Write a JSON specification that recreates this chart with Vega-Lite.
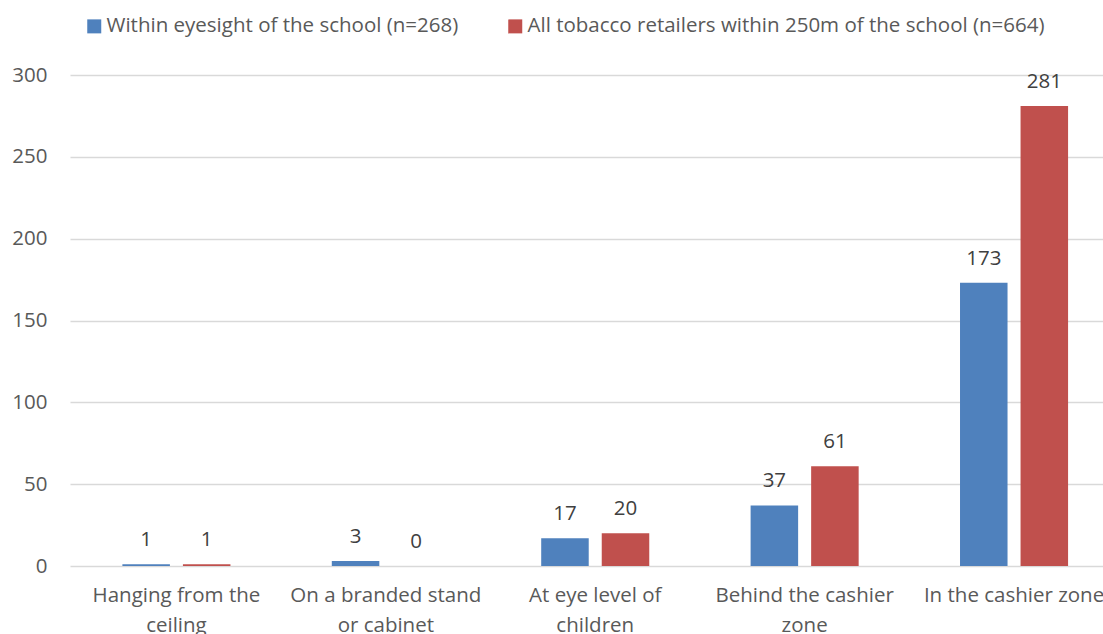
{
  "$schema": "https://vega.github.io/schema/vega-lite/v6.json",
  "width": 1033,
  "height": 491,
  "autosize": {"type": "none"},
  "padding": {"left": 70, "top": 75, "right": 0, "bottom": 68},
  "background": "white",
  "data": {
    "values": [
      {"location": "Hanging from the ceiling", "group": "Within eyesight of the school (n=268)", "count": 1},
      {"location": "Hanging from the ceiling", "group": "All tobacco retailers within 250m of the school (n=664)", "count": 1},
      {"location": "On a branded stand or cabinet", "group": "Within eyesight of the school (n=268)", "count": 3},
      {"location": "On a branded stand or cabinet", "group": "All tobacco retailers within 250m of the school (n=664)", "count": 0},
      {"location": "At eye level of children", "group": "Within eyesight of the school (n=268)", "count": 17},
      {"location": "At eye level of children", "group": "All tobacco retailers within 250m of the school (n=664)", "count": 20},
      {"location": "Behind the cashier zone", "group": "Within eyesight of the school (n=268)", "count": 37},
      {"location": "Behind the cashier zone", "group": "All tobacco retailers within 250m of the school (n=664)", "count": 61},
      {"location": "In the cashier zone", "group": "Within eyesight of the school (n=268)", "count": 173},
      {"location": "In the cashier zone", "group": "All tobacco retailers within 250m of the school (n=664)", "count": 281}
    ]
  },
  "config": {
    "view": {"stroke": null},
    "font": "Open Sans"
  },
  "encoding": {
    "x": {
      "field": "location",
      "type": "nominal",
      "sort": null,
      "scale": {"paddingInner": 0.484, "paddingOuter": 0.2085, "align": 0.6},
      "axis": {
        "title": null,
        "labelAngle": 0,
        "domain": false,
        "ticks": false,
        "labelFont": "Open Sans",
        "labelFontSize": 20.5,
        "labelColor": "#595959",
        "labelPadding": 19,
        "labelLineHeight": 30,
        "labelLimit": 300,
        "labelExpr": "datum.label == 'Hanging from the ceiling' ? ['Hanging from the', 'ceiling'] : datum.label == 'On a branded stand or cabinet' ? ['On a branded stand', 'or cabinet'] : datum.label == 'At eye level of children' ? ['At eye level of', 'children'] : datum.label == 'Behind the cashier zone' ? ['Behind the cashier', 'zone'] : datum.label"
      }
    },
    "xOffset": {
      "field": "group",
      "type": "nominal",
      "sort": null,
      "scale": {"paddingInner": 0.215}
    },
    "y": {
      "field": "count",
      "type": "quantitative",
      "scale": {"domain": [0, 300]},
      "axis": {
        "title": null,
        "values": [0, 50, 100, 150, 200, 250, 300],
        "domain": false,
        "ticks": false,
        "grid": true,
        "gridColor": "#d9d9d9",
        "gridWidth": 1.3,
        "labelFont": "Open Sans",
        "labelFontSize": 20.5,
        "labelColor": "#595959",
        "labelPadding": 23
      }
    }
  },
  "layer": [
    {
      "mark": {"type": "bar"},
      "encoding": {
        "color": {
          "field": "group",
          "type": "nominal",
          "sort": null,
          "scale": {"range": ["#4F81BD", "#C0504D"]},
          "legend": {
            "title": null,
            "orient": "none",
            "legendX": 14,
            "legendY": -59,
            "direction": "horizontal",
            "columns": 2,
            "columnPadding": 46,
            "symbolType": "square",
            "symbolSize": 196,
            "symbolStrokeWidth": 0,
            "symbolOffset": 0,
            "labelOffset": 2,
            "labelFont": "Open Sans",
            "labelFontSize": 20.5,
            "labelColor": "#595959",
            "labelLimit": 700
          }
        }
      }
    },
    {
      "mark": {"type": "text", "baseline": "alphabetic", "dy": -18, "font": "Open Sans", "fontSize": 20.5, "color": "#404040"},
      "encoding": {
        "text": {"field": "count", "type": "quantitative"}
      }
    }
  ]
}
